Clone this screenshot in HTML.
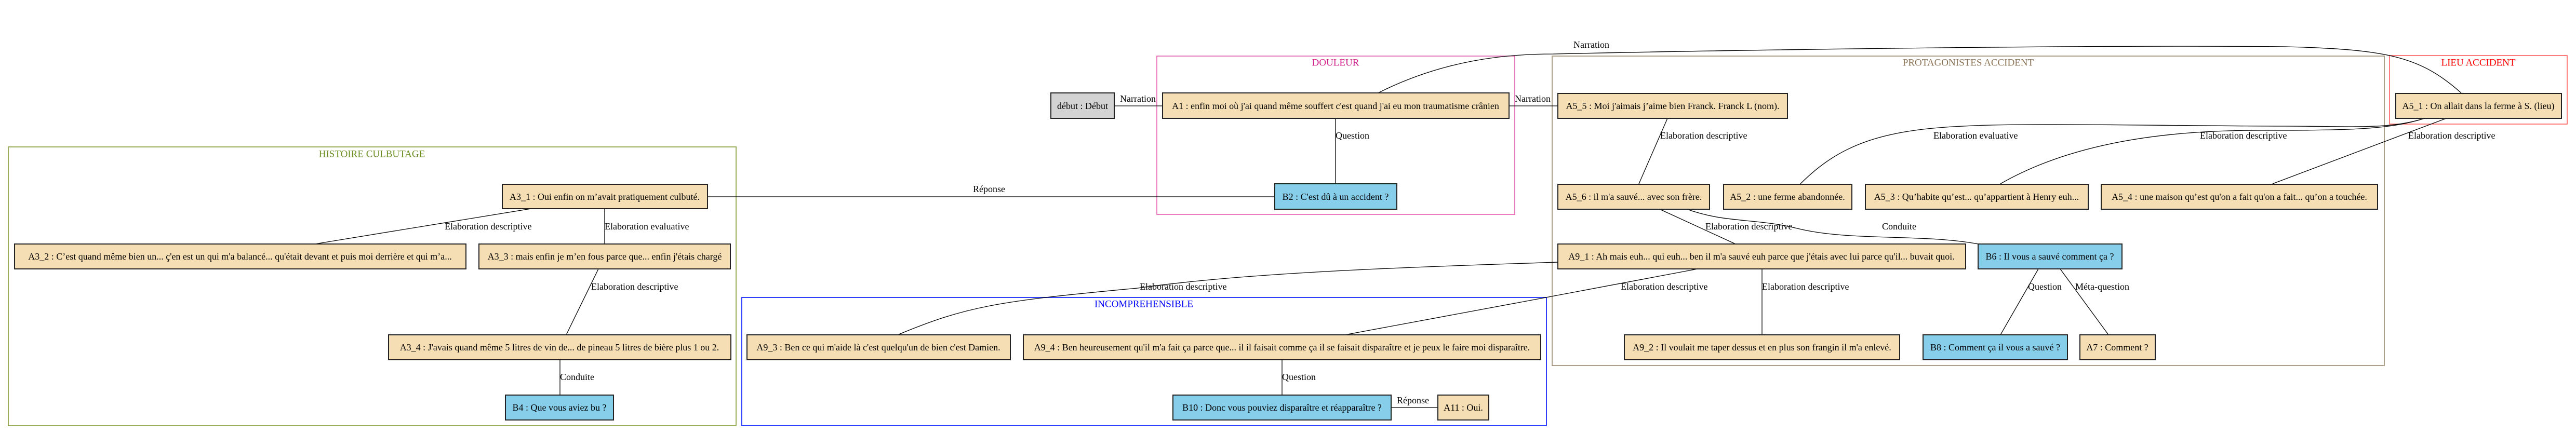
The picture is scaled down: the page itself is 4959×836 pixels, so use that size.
<!DOCTYPE html>
<html><head><meta charset="utf-8"><style>
html,body{margin:0;padding:0;background:#fff;}
svg{display:block;}
text{font-family:"Liberation Serif",serif;font-size:18px;fill:#000;}
.n{text-anchor:middle;dominant-baseline:central;}
.t{text-anchor:middle;dominant-baseline:central;font-size:19px;}
</style></head><body>
<svg width="4959" height="836" viewBox="0 0 4959 836" xmlns="http://www.w3.org/2000/svg">
<rect width="4959" height="836" fill="#fff"/>
<!-- clusters -->
<rect x="16" y="283" width="1401" height="537" fill="none" stroke="#9aae5c" stroke-width="2"/>
<text class="t" x="716" y="297" style="fill:#6B8E23">HISTOIRE CULBUTAGE</text>
<rect x="2227" y="108" width="689" height="305" fill="none" stroke="#e050a8" stroke-width="1.5"/>
<text class="t" x="2571" y="121" style="fill:#d0208a">DOULEUR</text>
<rect x="1428" y="573" width="1549" height="247" fill="none" stroke="#3040ff" stroke-width="2"/>
<text class="t" x="2202" y="586" style="fill:#0000ff">INCOMPREHENSIBLE</text>
<rect x="2988" y="108" width="1602" height="596" fill="none" stroke="#ad9f8a" stroke-width="2"/>
<text class="t" x="3789" y="121" style="fill:#8B7355">PROTAGONISTES ACCIDENT</text>
<rect x="4600" y="107" width="342" height="132" fill="none" stroke="#ff5050" stroke-width="1.5"/>
<text class="t" x="4771" y="121" style="fill:#ff0000">LIEU ACCIDENT</text>

<!-- edges -->
<g fill="none" stroke="#000" stroke-width="1.3">
<path d="M2145,204 L2238,204"/>
<path d="M2905,204 L2999,204"/>
<path d="M2571,228 L2571,354"/>
<path d="M1362,379 L2454,379"/>
<path d="M1022,402 L606,470"/>
<path d="M1164,402 L1164,470"/>
<path d="M1152,518 L1090,645"/>
<path d="M1078,693 L1078,761"/>
<path d="M2653,179 C2780,115 2900,104 2990,104 C3300,97 4000,86 4400,90 C4600,95 4660,110 4738,179"/>
<path d="M3210,228 L3155,354"/>
<path d="M4667,228 C4600,250 4520,243 4400,243 C4200,243 3900,236 3780,243 C3620,250 3540,280 3466,354"/>
<path d="M4667,228 C4600,250 4520,251 4350,251 C4150,251 3980,280 3851,354"/>
<path d="M4709,228 L4375,354"/>
<path d="M3193,402 L3341,470"/>
<path d="M3245,402 C3320,430 3380,420 3460,440 C3560,465 3700,450 3808,470"/>
<path d="M3392,518 L3392,645"/>
<path d="M3268,518 L2976,573 L2589,645"/>
<path d="M2999,505 C2700,515 2400,525 2190,555 C1920,580 1860,590 1728,645"/>
<path d="M3924,518 L3851,645"/>
<path d="M3966,518 L4059,645"/>
<path d="M2468,693 L2468,761"/>
<path d="M2678,785 L2768,785"/>
</g>

<!-- edge labels -->
<g>
<text x="2156" y="190" style="dominant-baseline:central">Narration</text>
<text x="2916" y="190" style="dominant-baseline:central">Narration</text>
<text x="3029" y="86" style="dominant-baseline:central">Narration</text>
<text x="2571" y="261" style="dominant-baseline:central">Question</text>
<text x="1873" y="364" style="dominant-baseline:central">Réponse</text>
<text x="856" y="436" style="dominant-baseline:central">Elaboration descriptive</text>
<text x="1164" y="436" style="dominant-baseline:central">Elaboration evaluative</text>
<text x="1138" y="552" style="dominant-baseline:central">Elaboration descriptive</text>
<text x="1078" y="726" style="dominant-baseline:central">Conduite</text>
<text x="3196" y="261" style="dominant-baseline:central">Elaboration descriptive</text>
<text x="3722" y="261" style="dominant-baseline:central">Elaboration evaluative</text>
<text x="4235" y="261" style="dominant-baseline:central">Elaboration descriptive</text>
<text x="4636" y="261" style="dominant-baseline:central">Elaboration descriptive</text>
<text x="3283" y="436" style="dominant-baseline:central">Elaboration descriptive</text>
<text x="3623" y="436" style="dominant-baseline:central">Conduite</text>
<text x="3120" y="552" style="dominant-baseline:central">Elaboration descriptive</text>
<text x="3392" y="552" style="dominant-baseline:central">Elaboration descriptive</text>
<text x="2194" y="552" style="dominant-baseline:central">Elaboration descriptive</text>
<text x="3904" y="552" style="dominant-baseline:central">Question</text>
<text x="3995" y="552" style="dominant-baseline:central">Méta-question</text>
<text x="2468" y="726" style="dominant-baseline:central">Question</text>
<text x="2689" y="771" style="dominant-baseline:central">Réponse</text>
</g>

<!-- nodes -->
<g stroke="#222" stroke-width="2">
<rect x="2023" y="179" width="122" height="49" fill="#D3D3D3"/>
<rect x="2238" y="179" width="667" height="49" fill="#F5DEB3"/>
<rect x="2454" y="354" width="235" height="49" fill="#87CEEB"/>
<rect x="967" y="355" width="395" height="47" fill="#F5DEB3"/>
<rect x="28" y="470" width="869" height="48" fill="#F5DEB3"/>
<rect x="922" y="470" width="484" height="48" fill="#F5DEB3"/>
<rect x="748" y="645" width="659" height="48" fill="#F5DEB3"/>
<rect x="973" y="761" width="208" height="48" fill="#87CEEB"/>
<rect x="1438" y="645" width="507" height="48" fill="#F5DEB3"/>
<rect x="1970" y="645" width="996" height="48" fill="#F5DEB3"/>
<rect x="2258" y="761" width="420" height="48" fill="#87CEEB"/>
<rect x="2768" y="761" width="98" height="48" fill="#F5DEB3"/>
<rect x="2999" y="180" width="442" height="48" fill="#F5DEB3"/>
<rect x="4612" y="180" width="319" height="48" fill="#F5DEB3"/>
<rect x="2999" y="355" width="292" height="48" fill="#F5DEB3"/>
<rect x="3318" y="355" width="247" height="48" fill="#F5DEB3"/>
<rect x="3591" y="355" width="429" height="48" fill="#F5DEB3"/>
<rect x="4045" y="355" width="532" height="48" fill="#F5DEB3"/>
<rect x="2999" y="470" width="785" height="48" fill="#F5DEB3"/>
<rect x="3808" y="470" width="277" height="48" fill="#87CEEB"/>
<rect x="3127" y="645" width="530" height="48" fill="#F5DEB3"/>
<rect x="3702" y="645" width="278" height="48" fill="#87CEEB"/>
<rect x="4004" y="645" width="145" height="48" fill="#F5DEB3"/>
</g>
<g>
<text class="n" x="2084" y="204">début : Début</text>
<text class="n" x="2571" y="204">A1 : enfin moi où j'ai quand même souffert c'est quand j'ai eu mon traumatisme crânien</text>
<text class="n" x="2571" y="379">B2 : C'est dû à un accident ?</text>
<text class="n" x="1164" y="379">A3_1 : Oui enfin on m’avait pratiquement culbuté.</text>
<text class="n" x="462" y="494">A3_2 : C’est quand même bien un...  ç'en est un qui m'a balancé... qu'était devant et puis moi derrière et qui m’a...</text>
<text class="n" x="1164" y="494">A3_3 : mais enfin je m’en fous parce que... enfin j'étais chargé</text>
<text class="n" x="1077" y="669">A3_4 : J'avais quand même 5 litres de vin de... de  pineau 5 litres de bière plus 1 ou 2.</text>
<text class="n" x="1077" y="785">B4 : Que vous aviez bu ?</text>
<text class="n" x="1691" y="669">A9_3 : Ben ce qui m'aide là c'est quelqu'un de bien c'est Damien.</text>
<text class="n" x="2468" y="669">A9_4 : Ben heureusement qu'il m'a fait ça parce que... il il faisait comme ça il se faisait disparaître et je peux le faire moi disparaître.</text>
<text class="n" x="2468" y="785">B10 : Donc vous pouviez disparaître et réapparaître ?</text>
<text class="n" x="2817" y="785">A11 : Oui.</text>
<text class="n" x="3220" y="204">A5_5 : Moi j'aimais j’aime bien Franck. Franck L (nom).</text>
<text class="n" x="4771" y="204">A5_1 : On allait dans la ferme à S. (lieu)</text>
<text class="n" x="3145" y="379">A5_6 : il m'a sauvé... avec son frère.</text>
<text class="n" x="3441" y="379">A5_2 : une ferme abandonnée.</text>
<text class="n" x="3805" y="379">A5_3 : Qu’habite qu’est... qu’appartient à Henry euh...</text>
<text class="n" x="4311" y="379">A5_4 : une maison qu’est qu'on a fait qu'on a fait... qu’on a touchée.</text>
<text class="n" x="3391" y="494">A9_1 : Ah mais euh... qui euh... ben il m'a sauvé euh parce que j'étais avec lui parce qu'il... buvait quoi.</text>
<text class="n" x="3946" y="494">B6 : Il vous a sauvé comment ça ?</text>
<text class="n" x="3392" y="669">A9_2 : Il voulait me taper dessus et en plus son frangin il m'a enlevé.</text>
<text class="n" x="3841" y="669">B8 : Comment ça il vous a sauvé ?</text>
<text class="n" x="4076" y="669">A7 : Comment ?</text>
</g>
</svg>
</body></html>
